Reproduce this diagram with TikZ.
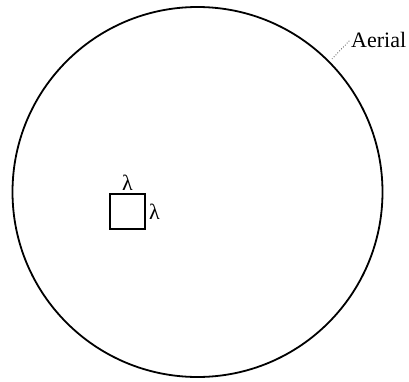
\documentclass[tikz,border=0pt]{standalone}
\usepackage{fontspec}
\setmainfont{Liberation Serif}
\usetikzlibrary{positioning}

\begin{document}
\begin{tikzpicture}[x=1pt,y=1pt,
	every node/.style={font=\fontsize{22}{26}\selectfont},
	ring/.style={draw, circle, line width=1.8pt, minimum size=370pt, inner sep=0pt, outer sep=0pt},
	cell/.style={draw, rectangle, line width=1.8pt, minimum size=35pt, inner sep=0pt},
	leader/.style={dotted, line width=0.7pt}]
	\useasboundingbox (0,0) rectangle (409,381);
	% aerial outline
	\node[ring] (aerial) at (197.5,189) {};
	% one cell of side lambda
	\node[cell] (box) at (127.5,169.5) {};
	\node[above=1pt of box, inner sep=1pt] (lamtop) {λ};
	\node[right=2pt of box, inner sep=1pt] (lamside) {λ};
	% label
	\node[anchor=west, inner sep=1pt] (label) at (350,341) {Aerial};
	\coordinate (tip) at (332,322);
	\draw[leader] (tip) -- (label.west);
\end{tikzpicture}
\end{document}
